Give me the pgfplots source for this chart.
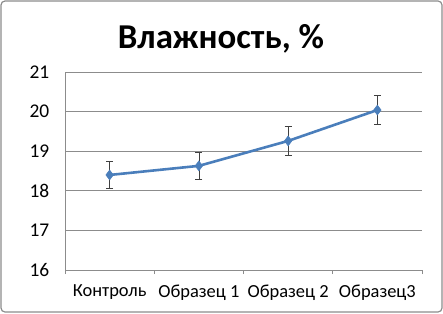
\documentclass[border=0pt]{standalone}
\usepackage{fontspec}
\setmainfont{Carlito}
\usepackage{pgfplots}
\pgfplotsset{compat=1.18}
\definecolor{serblue}{HTML}{4A7EBB}
\definecolor{gridc}{HTML}{8C8C8C}
\begin{document}
\begin{tikzpicture}[x=1bp,y=1bp]
\useasboundingbox (0,0) rectangle (443,313);
\draw[gridc,line width=1.2bp,rounded corners=4bp] (1,1) rectangle (442,312);
\begin{axis}[
  at={(65bp,43bp)}, anchor=south west,
  scale only axis, width=357bp, height=198bp,
  xmin=-0.5, xmax=3.5, ymin=16, ymax=21,
  ytick={16,17,18,19,20,21},
  xtick={0,1,2,3},
  xticklabels={Контроль,Образец 1,Образец 2,Образец3},
  minor xtick={-0.5,0.5,1.5,2.5,3.5},
  major x tick style={draw=none},
  minor x tick style={gridc, line width=0.8bp},
  tick align=outside,
  minor tick length=4bp,
  ymajorgrids, major grid style={gridc, line width=0.8bp},
  y tick style={draw=none},
  axis x line*=bottom, axis y line*=left,
  axis line style={gridc, line width=0.8bp, -},
  ticklabel style={font=\fontsize{18.5}{20}\selectfont},
  yticklabel style={font=\fontsize{19.5}{20}\selectfont, xshift=-8bp},
  /pgf/number format/assume math mode=true,
  xticklabel style={yshift=-7bp},
  clip=false,
]
\addplot[serblue, line width=2.6bp, mark=diamond*, mark size=5bp, mark options={fill=serblue, line width=0.5bp},
  error bars/.cd, y dir=both, y explicit,
  error bar style={black!75, line width=0.7bp, solid}, error mark options={rotate=90, mark size=3.5bp, black!75, line width=0.7bp}]
  coordinates {
  (0,18.40) +- (0,0.35)
  (1,18.63) +- (0,0.35)
  (2,19.26) +- (0,0.36)
  (3,20.04) +- (0,0.36)
  };
\end{axis}
\node[font=\bfseries\fontsize{35}{38}\selectfont, anchor=base] at (221,265) {Влажность, \%};
\end{tikzpicture}
\end{document}
